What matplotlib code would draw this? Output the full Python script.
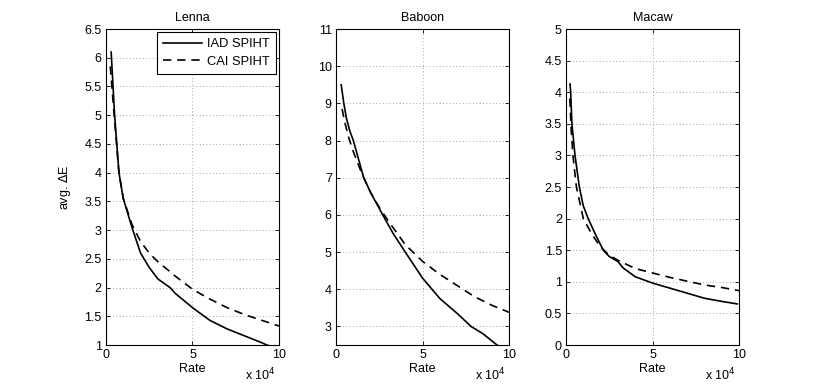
import matplotlib
matplotlib.use('Agg')
import matplotlib.pyplot as plt
from matplotlib.ticker import FuncFormatter
import numpy as np

# ---------------------------------------------------------------------------
# data (rate in bits, avg. delta E)
# ---------------------------------------------------------------------------
lenna_iad_rate = [3000, 5000, 7500, 10000, 15000, 20000, 25000, 30000, 37000, 40000,
                  50000, 60000, 70000, 80000, 90000, 93000, 95000]
lenna_iad_de = [6.1, 5.0, 4.0, 3.55, 3.05, 2.6, 2.35, 2.15, 2.0, 1.9,
                1.65, 1.43, 1.28, 1.16, 1.04, 1.0, 0.98]
lenna_cai_rate = [2500, 5000, 7500, 10000, 15000, 20000, 25000, 30000, 40000,
                  50000, 60000, 70000, 80000, 90000, 100000]
lenna_cai_de = [5.85, 4.9, 4.0, 3.55, 3.1, 2.8, 2.6, 2.45, 2.2,
                1.97, 1.8, 1.65, 1.53, 1.43, 1.33]

baboon_iad_rate = [3000, 4500, 6000, 8000, 10000, 16000, 20000, 27000, 33000, 40000,
                   50000, 60000, 70000, 78000, 85000, 93000, 95000]
baboon_iad_de = [9.5, 9.0, 8.6, 8.25, 8.0, 7.0, 6.6, 6.0, 5.5, 5.0,
                 4.3, 3.75, 3.35, 3.0, 2.8, 2.5, 2.45]
baboon_cai_rate = [3500, 5000, 7500, 10000, 15000, 20000, 25000, 30000, 40000,
                   50000, 60000, 70000, 80000, 90000, 100000]
baboon_cai_de = [8.85, 8.5, 8.05, 7.7, 7.1, 6.6, 6.2, 5.85, 5.2,
                 4.75, 4.4, 4.1, 3.8, 3.57, 3.38]

macaw_iad_rate = [2300, 2700, 3400, 5200, 7700, 10000, 12800, 17000, 21500, 25000,
                  30000, 33000, 40000, 50000, 60000, 70000, 80000, 90000, 99000]
macaw_iad_de = [4.13, 4.0, 3.5, 3.0, 2.5, 2.2, 2.0, 1.75, 1.5, 1.4,
                1.32, 1.22, 1.08, 0.98, 0.9, 0.82, 0.74, 0.69, 0.65]
macaw_cai_rate = [2200, 3000, 4000, 6000, 10000, 15000, 20000, 25000, 30000,
                  40000, 50000, 60000, 70000, 80000, 90000, 100000]
macaw_cai_de = [3.9, 3.4, 3.0, 2.5, 2.0, 1.75, 1.55, 1.42, 1.34,
                1.21, 1.14, 1.07, 1.01, 0.95, 0.91, 0.86]

titles = ['Lenna', 'Baboon', 'Macaw']
ylims = [(1, 6.5), (2.5, 11), (0, 5)]
yticks = [np.arange(1, 6.51, 0.5), np.arange(3, 11.1, 1), np.arange(0, 5.01, 0.5)]

series = [
    (lenna_iad_rate, lenna_iad_de, lenna_cai_rate, lenna_cai_de),
    (baboon_iad_rate, baboon_iad_de, baboon_cai_rate, baboon_cai_de),
    (macaw_iad_rate, macaw_iad_de, macaw_cai_rate, macaw_cai_de),
]

# ---------------------------------------------------------------------------
# plot
# ---------------------------------------------------------------------------
plt.rcParams['font.family'] = ['Liberation Sans', 'DejaVu Sans']
plt.rcParams['font.size'] = 9

fig = plt.figure(figsize=(8.17, 3.89), dpi=100)
lefts = [0.1297, 0.4113, 0.6928]
fmt = FuncFormatter(lambda v, p: f'{v / 1e4:g}')

for i, (left, (r1, d1, r2, d2)) in enumerate(zip(lefts, series)):
    ax = fig.add_axes([left, 0.1131, 0.2118, 0.8123])
    ax.plot(r1, d1, color='black', linewidth=1.2, label='IAD SPIHT')
    ax.plot(r2, d2, color='black', linewidth=1.2, linestyle=(0, (5, 3.5)), label='CAI SPIHT')
    ax.set_xlim(0, 100000)
    ax.set_ylim(*ylims[i])
    ax.set_xticks([0, 50000, 100000])
    ax.set_yticks(yticks[i])
    ax.xaxis.set_major_formatter(fmt)
    ax.yaxis.set_major_formatter(FuncFormatter(lambda v, p: f'{v:g}'))
    ax.tick_params(direction='in', length=3, width=0.6, top=True, right=True, pad=3)
    ax.grid(True, color='#888888', linestyle=(0, (1, 3)), linewidth=0.6)
    for s in ax.spines.values():
        s.set_linewidth(0.8)
    ax.set_title(titles[i], fontsize=9, pad=6)
    ax.set_xlabel('Rate', labelpad=1)
    ax.text(0.98, -0.111, r'x 10$^4$', transform=ax.transAxes, ha='right', va='baseline', fontsize=9)
    if i == 0:
        ax.set_ylabel('avg. $\\Delta$E', labelpad=8)
        leg = ax.legend(loc='upper right', fancybox=False, edgecolor='black', framealpha=1,
                        borderaxespad=0.25, handlelength=3.0, handletextpad=0.4,
                        borderpad=0.45, labelspacing=0.45, fontsize=9.3)
        leg.get_frame().set_linewidth(0.8)

plt.savefig('out.png', dpi=100)
